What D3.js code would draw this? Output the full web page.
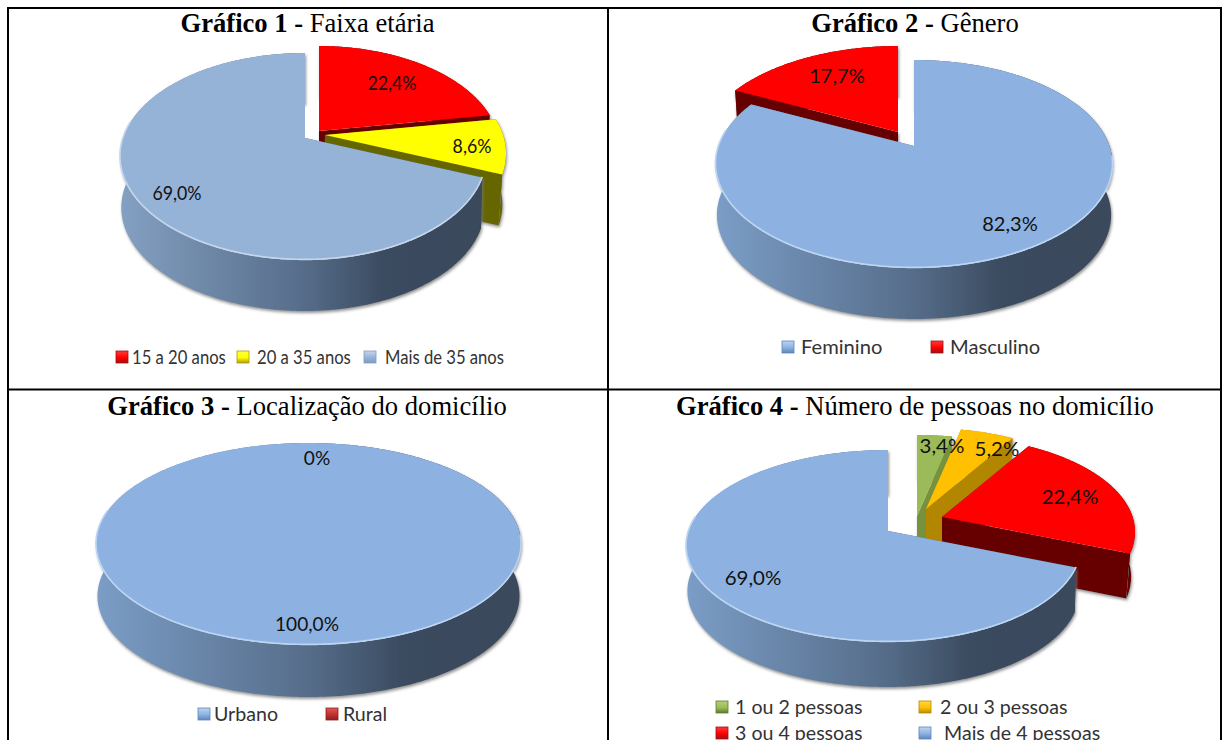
<!DOCTYPE html>
<html>
<head>
<meta charset="utf-8">
<script src="https://cdn.jsdelivr.net/npm/d3@7"></script>
<style>
  html, body { margin: 0; padding: 0; background: #fff; overflow: hidden; }
  svg { display: block; }
  .title { font-family: "Liberation Serif", serif; font-size: 26.6px; fill: #000; text-anchor: middle; }
  .label { font-family: Lato, "Noto Sans", sans-serif; font-size: 19.5px; fill: #111; text-anchor: middle; }
  .legend { font-family: Lato, "Noto Sans", sans-serif; font-size: 18.5px; fill: #333; }
</style>
</head>
<body>
<div class="container"></div>
<script>
// data
const categories1 = ['15 a 20 anos', '20 a 35 anos', 'Mais de 35 anos']
const values1 = [22.4, 8.6, 69.0]
const labels1 = ['22,4%', '8,6%', '69,0%']

const categories2 = ['Feminino', 'Masculino']
const values2 = [82.3, 17.7]
const labels2 = ['82,3%', '17,7%']

const categories3 = ['Urbano', 'Rural']
const values3 = [100, 0]
const labels3 = ['100,0%', '0%']

const categories4 = ['1 ou 2 pessoas', '2 ou 3 pessoas', '3 ou 4 pessoas', 'Mais de 4 pessoas']
const values4 = [3.4, 5.2, 22.4, 69.0]
const labels4 = ['3,4%', '5,2%', '22,4%', '69,0%']

let width = 1223
let height = 740

const red = { top: '#ff0000', wall: '#660000', hi: '#ff3b3b', lo: '#a01010' }
const darkRed = { top: '#c0302f', wall: '#660000', hi: '#dd5a58', lo: '#8e2020' }
const yellow = { top: '#ffff00', wall: '#666600', hi: '#ffff40', lo: '#b09a10' }
const green = { top: '#9bbb59', wall: '#76923c', hi: '#b5d070', lo: '#5f7a30' }
const gold = { top: '#ffc000', wall: '#b38600', hi: '#ffd840', lo: '#b88a00' }
const blue = { top: '#8db1e1', wall: 'grad', hi: '#bcd6f2', lo: '#5f86b8' }
const blueGrey = { top: '#95b3d7', wall: 'grad', hi: '#c6d6ea', lo: '#7f9cc0' }

const charts = [
    {
        id: 1, bold: 'Gráfico 1 - ', rest: 'Faixa etária', tx: 307.5, ty: 32,
        categories: categories1, values: values1, labels: labels1,
        styles: [red, yellow, blueGrey],
        x: 305, y: 138, rxL: 185, rxR: 181, front: 122, back: 85, depth: 51,
        explode: [[14, -7], [20, -3], [0, 0]],
        labelPos: [[392, 90], [472, 153], [177, 200]],
        legend: [[116, 357, 132], [237, 357, 257], [364, 357, 385]],
        labelStretch: 0.91, legendStretch: 0.9,
        wallLeft: '#84a0c2'
    },
    {
        id: 2, bold: 'Gráfico 2 - ', rest: 'Gênero', tx: 915, ty: 32,
        categories: categories2, values: values2, labels: labels2,
        styles: [blue, red],
        x: 914, y: 146, rxL: 198.5, rxR: 198.5, front: 122, back: 86, depth: 51,
        explode: [[0, 0], [-16, -14]],
        labelPos: [[1010, 231], [837, 83]],
        legend: [[782, 347, 801], [931, 347, 950]],
        labelStretch: 1.03, legendStretch: 1.09,
        wallLeft: '#7b9dc6'
    },
    {
        id: 3, bold: 'Gráfico 3 - ', rest: 'Localização do domicílio', tx: 307, ty: 415,
        categories: categories3, values: values3, labels: labels3,
        styles: [blue, darkRed],
        x: 308.5, y: 526, rxL: 212.5, rxR: 212.5, front: 119, back: 83, depth: 52,
        explode: [[0, 0], [0, 0]],
        labelPos: [[307, 631], [317, 465]],
        legend: [[198, 714, 214], [326, 714, 343]],
        labelStretch: 0.98, legendStretch: 1.06,
        wallLeft: '#7b9dc6'
    },
    {
        id: 4, bold: 'Gráfico 4 - ', rest: 'Número de pessoas no domicílio', tx: 915, ty: 415,
        categories: categories4, values: values4, labels: labels4,
        styles: [green, gold, red, blue],
        x: 888, y: 531, rxL: 202, rxR: 193, front: 111, back: 81, depth: 45,
        explode: [[29, -15], [38, -22], [54, -14], [0, 0]],
        labelPos: [[942, 453], [997, 456], [1070, 504], [753, 585]],
        legend: [[716, 707, 735], [919, 707, 940], [716, 733, 735], [919, 733, 944]],
        labelStretch: 1.05, legendStretch: 1.06,
        wallLeft: '#7b9dc6'
    }
]

let svg = d3.select('.container')
    .append('svg')
    .attr('width', width)
    .attr('height', height)

let defs = svg.append('defs')

let shadow = defs.append('filter')
    .attr('id', 'shadow')
    .attr('x', '-10%').attr('y', '-10%')
    .attr('width', '120%').attr('height', '130%')
shadow.append('feDropShadow')
    .attr('dx', 1).attr('dy', 2)
    .attr('stdDeviation', 1.5)
    .attr('flood-color', '#777')
    .attr('flood-opacity', 0.8)

defs.append('filter')
    .attr('id', 'soft')
    .attr('x', '-5%').attr('y', '-5%')
    .attr('width', '110%').attr('height', '110%')
    .append('feGaussianBlur')
    .attr('stdDeviation', 0.6)

let line = d3.line().x(d => d[0]).y(d => d[1])

// tilted disc: maps a pie angle to the page, near side larger than far side
function projector(c) {
    let k = (c.front - c.back) / (c.front + c.back)
    let b = c.front * (1 - k)
    let squeeze = Math.sqrt(1 - k * k)
    return (angle) => {
        let u = Math.sin(angle)
        let v = -Math.cos(angle)
        let w = 1 - k * v
        let rx = u < 0 ? c.rxL : c.rxR
        return [rx * squeeze * u / w, b * v / w]
    }
}

function arcAngles(a0, a1) {
    let steps = Math.max(2, Math.ceil((a1 - a0) / 0.01))
    return d3.range(steps + 1).map(i => a0 + (a1 - a0) * i / steps)
}

charts.forEach((c) => {
    let project = projector(c)
    let g = svg.append('g').attr('class', 'chart chart' + c.id)

    let gradId = 'wall' + c.id
    let grad = defs.append('linearGradient')
        .attr('id', gradId)
        .attr('gradientUnits', 'userSpaceOnUse')
        .attr('x1', c.x - c.rxL).attr('x2', c.x + c.rxR)
        .attr('y1', 0).attr('y2', 0)
    grad.append('stop').attr('offset', '0%').attr('stop-color', c.wallLeft)
    grad.append('stop').attr('offset', '50%').attr('stop-color', '#566d8a')
    grad.append('stop').attr('offset', '72%').attr('stop-color', '#3b4b60')
    grad.append('stop').attr('offset', '100%').attr('stop-color', '#3a485c')

    let slices = d3.pie().sort(null)(c.values)
        .map((d, i) => ({ ...d, i: i, style: c.styles[i], off: c.explode[i] }))
        .filter(d => d.value > 0)

    // pulled out slices sit behind the big one
    let order = slices.filter(d => d.off[0] || d.off[1]).concat(slices.filter(d => !(d.off[0] || d.off[1])))

    order.forEach((d) => {
        let ox = c.x + d.off[0]
        let oy = c.y + d.off[1]
        let taper = (d.off[0] || d.off[1]) ? 0.98 : 0.993
        let top = arcAngles(d.startAngle, d.endAngle).map(a => {
            let p = project(a)
            return [ox + p[0], oy + p[1]]
        })
        let low = top.map(p => [ox + (p[0] - ox) * taper, p[1] + c.depth]).reverse()
        let wallFill = d.style.wall === 'grad' ? 'url(#' + gradId + ')' : d.style.wall
        let slice = g.append('g').attr('class', 'slice')

        let walls = slice.append('g').attr('filter', 'url(#shadow)')
        let first = top[0]
        let last = top[top.length - 1]
        let full = d.endAngle - d.startAngle > 6.28
        if (!full) {
            // the two cut faces
            ;[first, last].forEach((p) => {
                let q = [ox + (p[0] - ox) * taper, p[1] + c.depth]
                walls.append('path')
                    .attr('d', line([[ox, oy], p, q, [ox, oy + c.depth]]) + 'Z')
                    .attr('fill', wallFill)
            })
        }
        walls.append('path')
            .attr('d', line(top.concat(low)) + 'Z')
            .attr('fill', wallFill)

        slice.append('path')
            .attr('d', line(full ? top : [[ox, oy]].concat(top)) + 'Z')
            .attr('fill', d.style.top)

        if (d.style.wall === 'grad') {
            // light rim on the near edge of the blue top
            let rim = arcAngles(Math.max(d.startAngle, Math.PI / 2 + 0.1), Math.min(d.endAngle, Math.PI * 1.55))
                .map(a => {
                    let p = project(a)
                    return [ox + p[0], oy + p[1] - 0.6]
                })
            slice.append('path')
                .attr('d', line(rim))
                .attr('fill', 'none')
                .attr('stroke', d.style.hi)
                .attr('stroke-width', 1.6)
                .attr('filter', 'url(#soft)')
        }
    })

    g.selectAll('text.label')
        .data(c.labels)
        .enter()
        .append('text')
        .attr('class', 'label')
        .attr('transform', (d, i) => 'translate(' + c.labelPos[i][0] + ',' + c.labelPos[i][1] + ') scale(' + c.labelStretch + ',1)')
        .text(d => d)

    let title = g.append('text')
        .attr('class', 'title')
        .attr('x', c.tx)
        .attr('y', c.ty)
    title.append('tspan').attr('font-weight', 'bold').text(c.bold)
    title.append('tspan').text(c.rest)

    let legend = g.selectAll('g.legend')
        .data(c.categories)
        .enter()
        .append('g')
        .attr('class', 'legend')

    legend.each(function (d, i) {
        let pos = c.legend[i]
        let st = c.styles[i]
        let box = d3.select(this)
        let id = 'key' + c.id + '-' + i
        let lg = defs.append('linearGradient')
            .attr('id', id)
            .attr('x1', 0).attr('x2', 0).attr('y1', 0).attr('y2', 1)
        lg.append('stop').attr('offset', '0%').attr('stop-color', st.hi)
        lg.append('stop').attr('offset', '55%').attr('stop-color', st.top)
        lg.append('stop').attr('offset', '100%').attr('stop-color', st.lo)
        box.append('rect')
            .attr('x', pos[0])
            .attr('y', pos[1] - 6)
            .attr('width', 12)
            .attr('height', 12)
            .attr('fill', 'url(#' + id + ')')
            .attr('stroke', st.lo)
            .attr('stroke-width', 0.8)
        box.append('text')
            .attr('transform', 'translate(' + pos[2] + ',' + (pos[1] + 6.5) + ') scale(' + c.legendStretch + ',1)')
            .text(d)
    })
})

// table lines
const ruleX = [8, 608, 1221]
const ruleY = [8, 389.5]
svg.append('g').selectAll('line.v')
    .data(ruleX).enter().append('line')
    .attr('x1', d => d).attr('x2', d => d)
    .attr('y1', 7).attr('y2', height)
    .attr('stroke', '#000').attr('stroke-width', 2)
svg.append('g').selectAll('line.h')
    .data(ruleY).enter().append('line')
    .attr('x1', 7).attr('x2', 1222)
    .attr('y1', d => d).attr('y2', d => d)
    .attr('stroke', '#000').attr('stroke-width', 2)
</script>
</body>
</html>
